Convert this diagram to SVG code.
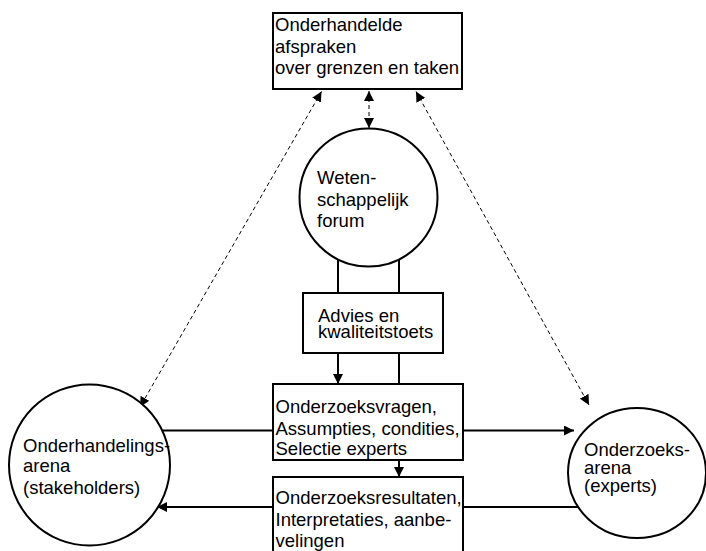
<svg xmlns="http://www.w3.org/2000/svg" width="706" height="551" viewBox="0 0 706 551">
<style>
  .shape { fill: #fff; stroke: #000; stroke-width: 2; }
  .lbl { font-family: "Liberation Sans", Arial, sans-serif; font-size: 18.5px; fill: #000; }
  .solid { stroke: #000; stroke-width: 2; fill: none; }
  .dash { stroke: #000; stroke-width: 1; stroke-dasharray: 4 3; fill: none; }
</style>
<defs>
  <marker id="ah" markerUnits="userSpaceOnUse" markerWidth="12" markerHeight="10" refX="10" refY="5" orient="auto-start-reverse" viewBox="0 0 12 10">
    <path d="M0,0 L10,5 L0,10 Z" fill="#000"/>
  </marker>
</defs>
<rect width="706" height="551" fill="#fff"/>
<g id="connectors">
  <line class="dash" x1="369" y1="91" x2="369" y2="128" marker-start="url(#ah)" marker-end="url(#ah)"/>
  <line class="dash" x1="321.5" y1="91.5" x2="140" y2="407" marker-start="url(#ah)" marker-end="url(#ah)"/>
  <line class="dash" x1="416" y1="91.5" x2="589" y2="405" marker-start="url(#ah)" marker-end="url(#ah)"/>
  <line class="solid" x1="338" y1="258" x2="338" y2="293"/>
  <line class="solid" x1="399" y1="258" x2="399" y2="293"/>
  <line class="solid" x1="338" y1="353" x2="338" y2="384" marker-end="url(#ah)"/>
  <line class="solid" x1="399" y1="353" x2="399" y2="384"/>
  <line class="solid" x1="399" y1="460" x2="399" y2="477" marker-end="url(#ah)"/>
  <line class="solid" x1="162" y1="430.5" x2="273" y2="430.5"/>
  <line class="solid" x1="463" y1="430.5" x2="574" y2="430.5" marker-end="url(#ah)"/>
  <line class="solid" x1="580" y1="507" x2="463" y2="507"/>
  <line class="solid" x1="273" y1="507" x2="157" y2="507" marker-end="url(#ah)"/>
</g>
<g id="afspraken">
  <rect class="shape" x="273" y="13" width="189" height="76"/>
  <text class="lbl" x="275" y="30.5">Onderhandelde</text>
  <text class="lbl" x="275" y="52.5">afspraken</text>
  <text class="lbl" x="275" y="74">over grenzen en taken</text>
</g>
<g id="forum">
  <circle class="shape" cx="368.5" cy="197.5" r="69"/>
  <text class="lbl" x="317" y="184">Weten-</text>
  <text class="lbl" x="317" y="206">schappelijk</text>
  <text class="lbl" x="317" y="227">forum</text>
</g>
<g id="advies">
  <rect class="shape" x="303" y="293" width="140" height="60"/>
  <text class="lbl" x="318" y="322">Advies en</text>
  <text class="lbl" x="318" y="338">kwaliteitstoets</text>
</g>
<g id="vragen">
  <rect class="shape" x="273" y="384" width="190" height="76"/>
  <text class="lbl" x="275.5" y="413">Onderzoeksvragen,</text>
  <text class="lbl" x="275.5" y="434.5">Assumpties, condities,</text>
  <text class="lbl" x="275.5" y="455">Selectie experts</text>
</g>
<g id="resultaten">
  <rect class="shape" x="273" y="477" width="190" height="90"/>
  <text class="lbl" x="275.5" y="504">Onderzoeksresultaten,</text>
  <text class="lbl" x="275.5" y="526">Interpretaties, aanbe-</text>
  <text class="lbl" x="275.5" y="547">velingen</text>
</g>
<g id="stakeholders">
  <circle class="shape" cx="89.5" cy="465" r="80.5"/>
  <text class="lbl" x="23" y="452">Onderhandelings-</text>
  <text class="lbl" x="23" y="472">arena</text>
  <text class="lbl" x="23" y="494">(stakeholders)</text>
</g>
<g id="experts">
  <ellipse class="shape" cx="637" cy="473" rx="69" ry="65"/>
  <text class="lbl" x="584" y="455.5">Onderzoeks-</text>
  <text class="lbl" x="584" y="474">arena</text>
  <text class="lbl" x="584" y="491.5">(experts)</text>
</g>
</svg>
